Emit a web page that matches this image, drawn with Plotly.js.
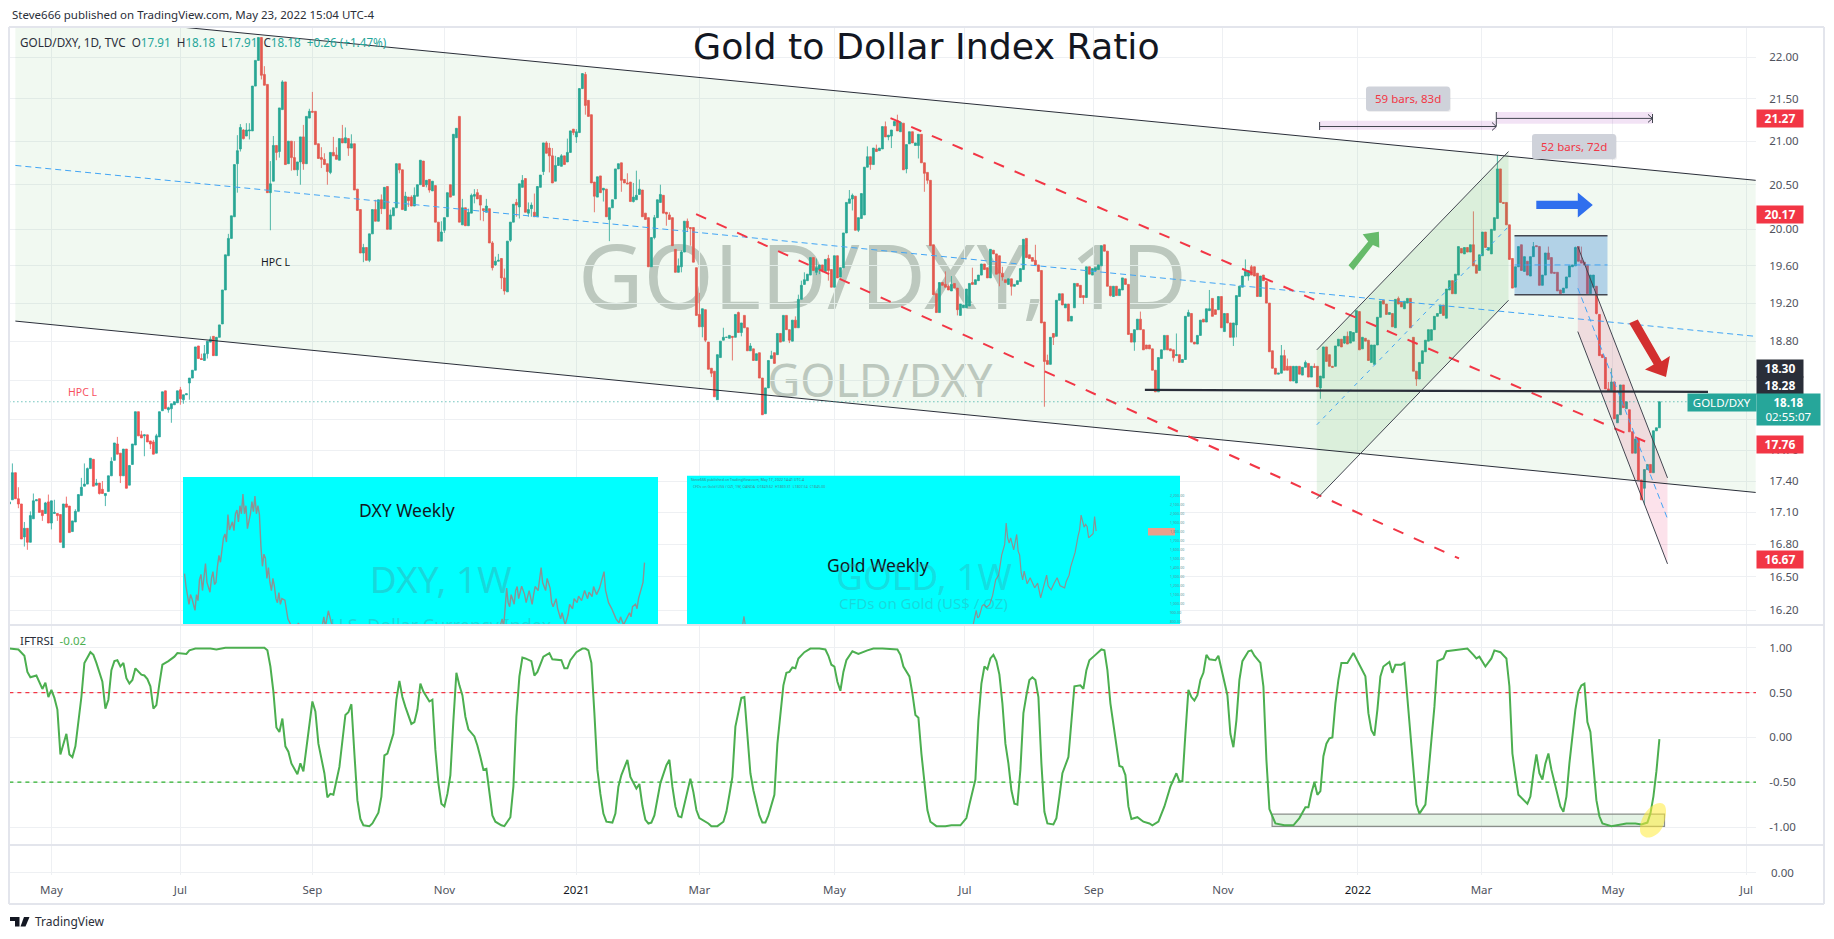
<!DOCTYPE html>
<html>
<head>
<meta charset="utf-8">
<title>Gold to Dollar Index Ratio</title>
<script src="https://cdn.plot.ly/plotly-3.0.1.min.js"></script>
<style>html,body{margin:0;padding:0;background:#fff}#chart{width:1834px;height:939px}</style>
</head>
<body>
<div id="chart"></div>
<script>
/* GOLD/DXY daily candles, one row = 10 bars */
var barOpen = [
17.18,17.22,17.48,17.23,17.18,16.87,16.95,16.82,17.04,17.21,
17.23,17.12,17.09,17.20,17.00,17.09,17.09,17.08,16.77,17.18,
17.16,16.92,17.01,17.11,17.26,17.35,17.37,17.52,17.61,17.36,
17.38,17.32,17.26,17.30,17.45,17.60,17.76,17.67,17.45,17.71,
17.36,17.56,17.75,18.08,17.85,17.84,17.85,17.79,17.78,17.67,
17.83,18.09,18.29,18.10,18.11,18.15,18.17,18.30,18.20,18.25,
18.37,18.42,18.50,18.75,18.62,18.60,18.67,18.79,18.85,18.65,
18.84,18.98,19.34,19.71,19.90,20.14,20.74,20.91,21.13,21.06,
21.12,21.12,21.65,21.96,22.24,21.79,21.67,20.41,20.54,20.95,
20.88,21.37,21.70,20.74,21.00,20.81,20.67,20.76,21.05,20.74,
21.27,21.35,21.35,20.97,20.81,20.79,20.74,20.64,20.87,20.84,
20.78,21.03,20.98,21.03,20.92,20.97,20.45,20.22,19.74,19.80,
19.66,19.95,20.22,20.09,20.33,20.23,20.48,20.00,20.15,20.24,
20.74,20.67,20.21,20.36,20.36,20.26,20.37,20.50,20.77,20.50,
20.56,20.43,20.49,20.08,19.87,19.99,20.14,20.50,20.38,21.04,
21.29,20.05,20.24,20.04,20.18,20.37,20.41,20.38,20.23,20.19,
20.23,19.85,19.61,19.65,19.68,19.47,19.32,19.88,20.08,20.30,
20.25,20.47,20.57,20.18,20.23,20.19,20.14,20.47,20.65,20.98,
20.92,20.83,20.54,20.72,20.71,20.83,20.76,20.87,21.14,21.05,
21.10,21.62,21.79,21.48,21.31,20.53,20.36,20.60,20.44,20.45,
20.11,20.24,20.34,20.68,20.75,20.56,20.52,20.53,20.31,20.33,
20.39,20.44,20.18,20.13,19.59,19.91,20.13,20.30,20.38,20.19,
20.16,20.13,19.78,19.53,19.59,19.75,20.09,20.02,20.02,19.58,
19.08,18.95,19.13,18.79,18.52,18.49,18.20,18.63,18.81,18.84,
18.83,18.85,18.84,19.10,18.89,19.07,18.94,18.70,18.72,18.60,
18.68,18.42,18.06,18.32,18.62,18.68,18.66,18.88,18.80,19.07,
18.92,18.80,19.02,18.94,19.24,19.40,19.44,19.50,19.69,19.53,
19.56,19.61,19.54,19.68,19.56,19.37,19.71,19.48,19.58,19.96,
20.29,20.34,20.37,19.99,20.12,20.16,20.70,20.82,20.73,20.91,
20.89,20.91,21.17,21.05,21.06,21.18,21.24,21.11,21.21,20.68,
20.97,21.11,20.95,20.95,21.08,20.75,20.64,20.55,19.83,19.30,
19.10,19.42,19.40,19.38,19.33,19.41,19.36,19.07,19.15,19.15,
19.17,19.42,19.40,19.44,19.50,19.62,19.58,19.47,19.77,19.73,
19.71,19.52,19.45,19.40,19.46,19.38,19.40,19.43,19.56,19.90,
19.72,19.69,19.66,19.61,19.55,19.00,18.60,18.56,18.88,18.85,
19.23,19.30,19.15,19.19,19.01,19.15,19.41,19.39,19.28,19.26,
19.59,19.50,19.55,19.56,19.60,19.83,19.76,19.38,19.27,19.38,
19.28,19.34,19.46,19.40,18.88,18.79,18.92,19.03,18.92,18.76,
18.76,18.72,18.50,18.28,18.62,18.71,18.86,18.72,18.71,18.65,
18.66,18.58,18.61,19.06,19.09,18.79,18.77,18.86,19.03,19.00,
19.12,19.25,19.13,19.13,19.27,18.90,19.09,18.99,18.84,18.97,
19.27,19.37,19.49,19.49,19.59,19.59,19.52,19.27,19.50,19.43,
19.20,18.70,18.52,18.46,18.47,18.65,18.54,18.54,18.39,18.37,
18.54,18.45,18.53,18.57,18.43,18.54,18.54,18.32,18.42,18.74,
18.66,18.54,18.54,18.75,18.82,18.78,18.85,18.78,18.80,18.89,
19.11,18.72,18.83,18.81,18.58,18.56,18.76,19.05,19.23,19.19,
19.08,19.09,18.94,19.25,19.21,19.14,19.20,19.25,18.84,18.49,
18.41,18.57,18.69,18.80,18.81,18.92,19.06,19.09,19.18,19.04,
19.34,19.44,19.30,19.50,19.79,19.73,19.80,19.75,19.83,19.61,
19.55,19.71,19.97,19.77,19.73,19.99,20.12,20.68,20.30,20.30,
20.05,19.68,19.37,19.59,19.83,19.54,19.65,19.49,19.70,19.82,
19.81,19.39,19.50,19.74,19.69,19.53,19.53,19.34,19.31,19.36,
19.48,19.59,19.60,19.81,19.66,19.64,19.61,19.30,19.37,19.38,
19.08,18.66,18.63,18.31,18.29,18.38,17.97,18.05,18.35,18.11,
18.10,17.88,17.67,17.81,17.41,17.33,17.51,17.56,17.48,17.89,
17.92];
var barClose = [
17.20,17.48,17.23,17.18,16.85,16.95,16.82,17.07,17.21,17.22,
17.10,17.07,17.19,17.00,17.21,17.10,17.07,16.82,17.18,17.15,
16.91,17.02,17.11,17.27,17.34,17.37,17.52,17.62,17.35,17.38,
17.28,17.28,17.28,17.45,17.59,17.77,17.66,17.45,17.71,17.33,
17.55,17.76,18.08,17.84,17.82,17.85,17.78,17.76,17.66,17.84,
18.08,18.28,18.11,18.12,18.16,18.18,18.29,18.21,18.25,18.26,
18.42,18.50,18.74,18.62,18.61,18.67,18.80,18.82,18.65,18.84,
18.97,19.34,19.72,19.90,20.15,20.73,20.89,21.16,21.03,21.13,
21.13,21.65,21.96,22.24,21.78,21.66,20.41,20.51,20.95,20.87,
21.39,21.70,20.73,21.00,20.81,20.67,20.76,21.05,20.74,21.29,
21.35,21.34,20.96,20.80,20.79,20.73,20.65,20.87,20.83,20.79,
21.03,20.98,21.04,20.92,20.97,20.44,20.21,19.74,19.80,19.66,
19.95,20.22,20.09,20.33,20.23,20.47,20.00,20.16,20.24,20.74,
20.67,20.22,20.37,20.32,20.26,20.38,20.50,20.78,20.48,20.55,
20.44,20.54,20.08,19.87,19.97,20.13,20.41,20.36,21.08,21.15,
20.08,20.24,20.04,20.19,20.38,20.39,20.34,20.27,20.21,20.26,
19.85,19.58,19.65,19.66,19.47,19.33,19.87,20.08,20.28,20.27,
20.51,20.55,20.19,20.22,20.27,20.14,20.48,20.61,20.98,20.86,
20.83,20.52,20.72,20.81,20.83,20.73,20.87,21.12,21.10,21.11,
21.62,21.80,21.42,21.29,20.52,20.37,20.59,20.41,20.46,20.14,
20.24,20.33,20.68,20.74,20.55,20.52,20.51,20.31,20.36,20.38,
20.45,20.14,20.11,19.59,19.91,20.13,20.33,20.39,20.18,20.17,
20.11,19.82,19.53,19.60,19.75,20.09,20.02,20.01,19.64,19.07,
18.95,19.14,18.81,18.51,18.47,18.23,18.66,18.80,18.84,18.84,
18.86,18.84,19.08,18.89,18.99,18.94,18.70,18.75,18.60,18.67,
18.42,18.05,18.32,18.60,18.65,18.57,18.88,18.79,19.07,18.92,
18.81,19.02,18.94,19.24,19.39,19.45,19.51,19.69,19.55,19.58,
19.61,19.55,19.67,19.55,19.37,19.71,19.47,19.58,19.96,20.30,
20.34,20.38,19.99,20.13,20.40,20.70,20.82,20.73,20.92,20.88,
20.92,21.17,21.05,21.07,21.13,21.23,21.12,21.22,20.67,20.96,
21.11,20.98,20.98,21.08,20.75,20.63,20.55,19.82,19.29,19.10,
19.42,19.39,19.37,19.34,19.40,19.36,19.13,19.19,19.18,19.35,
19.41,19.40,19.45,19.50,19.62,19.56,19.47,19.78,19.73,19.51,
19.52,19.48,19.42,19.46,19.38,19.40,19.44,19.57,19.89,19.69,
19.68,19.65,19.61,19.54,18.99,18.59,18.56,18.84,18.84,19.23,
19.30,19.18,19.19,19.01,19.06,19.41,19.38,19.26,19.26,19.59,
19.51,19.57,19.58,19.61,19.82,19.76,19.38,19.28,19.38,19.28,
19.35,19.47,19.40,18.87,18.79,18.92,19.03,18.92,18.71,18.72,
18.72,18.50,18.28,18.63,18.71,18.86,18.71,18.70,18.63,18.66,
18.58,18.61,19.06,19.10,18.79,18.77,18.86,19.02,19.00,19.14,
19.14,19.06,19.08,19.27,18.94,19.09,18.99,18.84,18.99,19.28,
19.38,19.49,19.54,19.55,19.50,19.49,19.27,19.49,19.44,19.20,
18.69,18.52,18.46,18.47,18.65,18.50,18.50,18.39,18.54,18.54,
18.46,18.53,18.58,18.43,18.54,18.53,18.33,18.44,18.74,18.59,
18.54,18.53,18.75,18.82,18.74,18.85,18.77,18.90,18.89,19.12,
18.71,18.84,18.80,18.60,18.76,18.76,19.05,19.22,19.19,19.08,
19.10,18.95,19.24,19.19,19.16,19.22,19.25,18.94,18.49,18.41,
18.58,18.70,18.81,18.92,18.92,19.06,19.09,19.18,19.07,19.35,
19.44,19.30,19.51,19.81,19.74,19.80,19.75,19.83,19.60,19.52,
19.72,19.97,19.80,19.80,20.00,20.13,20.68,20.30,20.29,20.05,
19.67,19.36,19.59,19.81,19.55,19.70,19.50,19.70,19.81,19.81,
19.39,19.50,19.74,19.67,19.52,19.52,19.33,19.30,19.36,19.48,
19.60,19.61,19.80,19.65,19.63,19.61,19.30,19.50,19.50,19.09,
18.65,18.63,18.31,18.29,18.38,18.01,18.05,18.35,18.12,18.18,
17.88,17.67,17.81,17.41,17.22,17.51,17.56,17.48,17.89,17.92,
18.18];
var barHigh = [
17.21,17.57,17.48,17.34,17.18,17.01,16.95,17.11,17.28,17.22,
17.23,17.12,17.20,17.27,17.21,17.22,17.09,17.08,17.18,17.25,
17.16,17.02,17.13,17.27,17.43,17.57,17.53,17.62,17.61,17.42,
17.38,17.40,17.28,17.45,17.63,17.77,17.83,17.67,17.71,17.71,
17.55,17.76,18.08,18.08,17.89,17.85,17.85,17.79,17.80,17.86,
18.08,18.28,18.29,18.13,18.16,18.18,18.29,18.33,18.25,18.26,
18.42,18.50,18.74,18.75,18.67,18.76,18.80,18.85,18.85,18.84,
18.97,19.34,19.72,19.95,20.15,20.73,21.07,21.20,21.14,21.21,
21.21,21.65,21.96,22.24,22.24,21.89,21.67,20.77,21.06,20.95,
21.39,21.72,21.70,21.00,21.00,21.00,20.76,21.05,21.19,21.29,
21.38,21.58,21.35,20.97,20.93,20.86,20.74,20.87,21.05,20.93,
21.03,21.19,21.16,21.03,21.08,20.97,20.45,20.22,19.84,19.80,
19.95,20.22,20.33,20.33,20.39,20.47,20.48,20.22,20.24,20.74,
20.74,20.67,20.42,20.36,20.38,20.47,20.50,20.78,20.77,20.55,
20.56,20.54,20.49,20.08,20.09,20.13,20.41,20.50,21.08,21.15,
21.29,20.34,20.24,20.23,20.40,20.45,20.45,20.38,20.23,20.34,
20.23,19.87,19.70,19.73,19.68,19.57,19.87,20.08,20.28,20.34,
20.51,20.61,20.57,20.30,20.30,20.40,20.14,20.48,20.61,21.00,
20.98,20.92,20.83,20.72,20.85,20.83,21.03,20.92,21.12,21.14,
21.10,21.62,21.82,21.48,21.31,20.53,20.59,20.60,20.46,20.45,
20.24,20.33,20.68,20.74,20.75,20.56,20.63,20.53,20.52,20.66,
20.56,20.44,20.18,20.13,19.91,20.16,20.33,20.50,20.38,20.19,
20.19,20.13,19.78,19.68,19.77,20.09,20.12,20.02,20.02,19.58,
19.31,19.14,19.13,18.79,18.52,18.49,18.66,18.80,18.94,18.84,
18.86,18.85,19.08,19.11,18.99,19.07,18.94,18.78,18.72,18.67,
18.68,18.42,18.32,18.60,18.70,18.68,18.88,18.88,19.07,19.07,
18.92,19.02,19.06,19.29,19.44,19.53,19.51,19.69,19.69,19.68,
19.61,19.61,19.67,19.72,19.56,19.71,19.71,19.58,19.96,20.30,
20.44,20.40,20.37,20.13,20.40,20.70,20.94,20.82,20.92,20.96,
20.92,21.17,21.23,21.07,21.13,21.23,21.31,21.22,21.21,20.96,
21.11,21.11,20.98,21.08,21.08,20.75,20.64,20.55,19.83,19.30,
19.42,19.42,19.54,19.40,19.49,19.41,19.36,19.19,19.18,19.35,
19.41,19.58,19.45,19.50,19.62,19.62,19.58,19.78,19.77,19.73,
19.71,19.59,19.45,19.46,19.46,19.40,19.44,19.57,19.89,19.90,
19.72,19.69,19.83,19.61,19.55,19.00,18.66,18.84,18.88,19.23,
19.30,19.30,19.19,19.19,19.06,19.41,19.41,19.39,19.28,19.59,
19.59,19.57,19.58,19.61,19.82,19.83,19.76,19.38,19.38,19.38,
19.35,19.47,19.46,19.40,18.88,18.92,19.03,19.11,18.92,18.76,
18.76,18.72,18.50,18.63,18.71,18.86,18.86,18.72,18.71,18.88,
18.66,18.61,19.06,19.13,19.09,18.79,18.86,19.02,19.03,19.14,
19.34,19.25,19.13,19.27,19.27,19.09,19.09,18.99,18.99,19.28,
19.38,19.49,19.67,19.55,19.61,19.59,19.52,19.49,19.50,19.44,
19.20,18.70,18.52,18.47,18.76,18.71,18.62,18.54,18.54,18.54,
18.54,18.53,18.60,18.57,18.54,18.57,18.54,18.44,18.74,18.74,
18.66,18.54,18.75,18.82,18.82,18.85,18.90,18.90,18.89,19.12,
19.11,18.84,18.83,18.81,18.76,18.76,19.05,19.22,19.23,19.19,
19.10,19.09,19.24,19.27,19.21,19.22,19.25,19.25,18.84,18.49,
18.58,18.70,18.81,18.92,18.92,19.06,19.09,19.18,19.18,19.35,
19.44,19.44,19.51,19.81,19.79,19.80,19.80,19.83,20.20,19.61,
19.72,19.97,19.97,19.80,20.00,20.13,20.84,20.68,20.30,20.30,
20.05,19.68,19.59,19.81,19.83,19.70,19.65,19.70,19.86,19.82,
19.81,19.50,19.74,19.81,19.69,19.53,19.53,19.34,19.36,19.48,
19.60,19.61,19.81,19.66,19.81,19.61,19.50,19.50,19.38,19.08,
18.66,18.63,18.31,18.38,18.52,18.01,18.05,18.35,18.35,18.18,
18.10,17.88,17.81,17.81,17.41,17.51,17.56,17.56,17.89,17.92,
18.18];
var barLow = [
16.75,17.22,17.23,17.14,16.85,16.78,16.75,16.82,17.04,17.21,
17.10,17.02,17.09,17.00,16.94,17.09,17.02,16.82,16.77,17.15,
16.91,16.92,17.01,17.11,17.26,17.35,17.37,17.52,17.35,17.36,
17.27,17.28,17.16,17.30,17.45,17.60,17.66,17.38,17.45,17.33,
17.36,17.56,17.75,17.84,17.82,17.64,17.78,17.71,17.66,17.67,
17.83,18.09,18.11,18.07,17.97,18.15,18.17,18.15,18.16,18.25,
18.20,18.42,18.50,18.62,18.61,18.60,18.62,18.79,18.65,18.65,
18.84,18.98,19.34,19.71,19.90,20.14,20.41,20.88,21.02,21.06,
21.02,21.12,21.65,21.96,21.73,21.66,20.41,19.99,20.54,20.78,
20.81,21.37,20.73,20.74,20.66,20.67,20.60,20.50,20.67,20.74,
21.27,21.34,20.96,20.80,20.69,20.73,20.50,20.62,20.83,20.79,
20.78,20.98,20.98,20.83,20.92,20.44,20.21,19.74,19.64,19.66,
19.64,19.95,20.09,20.09,20.17,20.23,20.00,20.00,20.15,20.24,
20.63,20.22,20.21,20.25,20.26,20.26,20.37,20.50,20.48,20.47,
20.41,20.43,20.08,19.87,19.87,19.96,20.14,20.36,20.38,21.04,
20.08,20.05,20.04,20.04,20.18,20.29,20.34,20.10,20.09,20.19,
19.85,19.55,19.60,19.65,19.35,19.29,19.32,19.86,20.08,20.14,
20.12,20.47,20.19,20.14,20.14,20.14,20.14,20.47,20.65,20.86,
20.64,20.52,20.54,20.72,20.71,20.73,20.76,20.87,21.07,20.98,
21.10,21.62,21.31,21.29,20.52,20.19,20.36,20.41,20.31,20.14,
19.87,20.24,20.34,20.68,20.42,20.52,20.51,20.31,20.30,20.33,
20.39,20.14,20.11,19.59,19.59,19.89,20.13,20.30,20.18,20.04,
20.11,19.82,19.53,19.53,19.53,19.75,19.97,19.82,19.64,19.07,
18.95,18.84,18.79,18.51,18.43,18.23,18.20,18.63,18.81,18.84,
18.83,18.60,18.84,18.89,18.85,18.94,18.70,18.70,18.60,18.60,
18.42,18.05,18.06,18.32,18.62,18.57,18.66,18.79,18.80,18.92,
18.78,18.80,18.94,18.94,19.24,19.40,19.44,19.50,19.55,19.50,
19.51,19.53,19.54,19.44,19.37,19.37,19.47,19.48,19.58,19.96,
20.29,20.21,19.99,19.97,20.12,20.16,20.70,20.67,20.73,20.88,
20.89,20.91,21.05,21.01,20.92,21.18,21.12,21.11,20.67,20.63,
20.97,20.98,20.95,20.80,20.75,20.42,20.51,19.82,19.29,19.10,
19.10,19.39,19.37,19.34,19.33,19.36,19.07,19.07,19.15,19.15,
19.17,19.40,19.40,19.44,19.50,19.56,19.47,19.47,19.73,19.51,
19.38,19.44,19.42,19.40,19.28,19.38,19.40,19.43,19.56,19.69,
19.68,19.65,19.61,19.54,18.99,18.13,18.56,18.56,18.76,18.85,
19.23,19.18,19.15,19.01,19.01,19.15,19.38,19.26,19.19,19.26,
19.51,19.50,19.55,19.56,19.60,19.76,19.38,19.27,19.27,19.28,
19.28,19.34,19.40,18.87,18.79,18.70,18.92,18.92,18.71,18.72,
18.72,18.50,18.28,18.28,18.62,18.71,18.71,18.70,18.59,18.65,
18.58,18.58,18.61,19.06,18.79,18.77,18.77,18.86,19.00,19.00,
19.12,19.06,19.08,19.13,18.94,18.90,18.99,18.84,18.75,18.84,
19.27,19.37,19.49,19.44,19.50,19.49,19.27,19.27,19.44,19.20,
18.69,18.52,18.46,18.46,18.47,18.50,18.50,18.39,18.39,18.37,
18.46,18.45,18.53,18.43,18.43,18.53,18.33,18.21,18.42,18.59,
18.54,18.53,18.54,18.75,18.74,18.77,18.77,18.78,18.80,18.89,
18.71,18.72,18.80,18.60,18.58,18.56,18.76,19.05,19.19,19.08,
19.08,18.95,18.94,19.19,19.16,19.14,19.20,18.94,18.49,18.34,
18.41,18.57,18.69,18.80,18.81,18.92,19.06,19.09,19.07,19.04,
19.34,19.30,19.30,19.50,19.74,19.73,19.75,19.75,19.60,19.52,
19.55,19.71,19.80,19.77,19.73,19.99,20.12,20.30,20.29,20.05,
19.67,19.36,19.37,19.59,19.55,19.54,19.50,19.49,19.70,19.81,
19.39,19.39,19.50,19.67,19.52,19.52,19.33,19.30,19.31,19.36,
19.48,19.59,19.60,19.65,19.63,19.61,19.30,19.30,19.37,19.09,
18.65,18.63,18.31,18.29,18.29,18.01,17.97,18.05,18.12,18.11,
17.88,17.67,17.67,17.41,17.22,17.17,17.51,17.48,17.48,17.89,
17.92];
var barIndex = barOpen.map(function (v, i) { return i; });

/* IFTRSI turning points: bar number and value */
var rsiBar = [0,3,5,6,7,9,11,12,13,14,15,16,17,19,20,21,22,24,25,27,28,29,31,32,33,34,35,36,37,38,39,40,41,42,44,45,46,47,48,49,50,51,53,55,56,59,60,62,67,69,72,85,86,87,88,89,90,91,92,93,94,96,97,98,99,101,102,103,105,106,107,108,110,112,113,114,115,116,117,118,120,121,123,124,125,126,128,129,130,131,132,134,135,136,137,138,140,141,142,143,144,145,146,147,148,149,150,151,152,153,155,156,157,158,159,160,161,162,164,165,166,167,168,169,170,171,172,174,175,176,178,180,181,183,184,185,186,187,189,191,192,193,194,195,196,197,198,199,201,202,203,204,206,207,209,210,211,212,213,214,215,217,219,220,221,222,223,224,225,226,227,228,229,230,231,233,234,236,238,239,240,241,242,243,244,245,246,247,248,249,250,251,252,253,255,256,258,259,260,261,262,263,265,267,270,272,273,274,275,276,277,278,279,281,283,286,288,291,296,297,298,300,301,302,303,304,305,306,307,309,312,314,317,319,320,322,323,324,325,326,327,328,329,330,331,332,333,334,335,336,337,338,339,340,341,342,343,344,345,346,348,349,350,351,353,354,355,357,358,359,360,362,364,365,366,367,369,370,371,372,373,374,376,378,380,381,383,385,387,389,390,391,392,393,394,395,396,397,398,399,400,402,403,404,406,407,408,409,410,411,413,414,415,417,418,419,420,422,425,428,430,432,433,434,435,436,437,438,439,440,441,442,443,444,446,448,450,452,453,454,455,456,457,458,460,461,462,464,465,466,468,469,470,472,473,475,476,478,479,481,486,488,489,490,492,494,495,497,499,500,501,502,503,506,507,508,509,510,511,512,513,514,516,517,518,519,520,522,523,524,525,526,527,528,529,530,531,534,536,539,542,544,546,547,548,549,550];
var rsiVal = [.99,.98,.91,.73,.67,.69,.54,.61,.45,.53,.44,.31,-.19,.04,-.19,-.22,-.10,.45,.83,.95,.92,.83,.62,.32,.42,.75,.85,.86,.79,.83,.66,.60,.64,.77,.70,.69,.65,.57,.32,.36,.60,.81,.85,.90,.94,.93,.97,.99,.99,.98,1.0,1.0,.97,.79,.51,.11,.06,.21,-.10,-.16,-.29,-.41,-.29,-.38,-.12,.40,.29,-.07,-.40,-.67,-.63,-.64,-.33,.25,.28,.37,-.18,-.70,-.91,-.98,-.99,-.96,-.84,-.66,-.20,-.18,.04,.42,.63,.45,.34,.15,.17,.31,.60,.51,.40,.42,-.14,-.51,-.74,-.77,-.63,-.42,.19,.72,.58,.47,.23,.09,.01,-.09,-.22,-.36,-.35,-.64,-.87,-.94,-.98,-.99,-.94,-.89,-.55,.23,.68,.89,.88,.85,.69,.73,.90,.94,.87,.86,.86,.77,.77,.86,.95,.99,.99,.97,.83,.27,-.36,-.63,-.85,-.94,-.95,-.85,-.55,-.42,-.25,-.44,-.57,-.52,-.76,-.92,-.96,-.95,-.87,-.51,-.31,-.25,-.55,-.77,-.88,-.89,-.74,-.59,-.46,-.61,-.81,-.90,-.92,-.96,-.99,-.99,-.94,-.83,-.64,-.44,.12,.27,.44,.45,.04,-.40,-.59,-.74,-.87,-.95,-.95,-.87,-.64,-.07,.58,.72,.73,.78,.77,.88,.95,.99,.99,.98,.91,.81,.79,.62,.52,.73,.86,.96,.93,.97,.99,.99,.98,.92,.79,.68,.49,.25,.22,-.18,-.51,-.81,-.94,-.99,-.99,-.98,-.98,-.90,-.75,-.47,.19,.60,.79,.76,.88,.92,.85,.70,.38,-.07,-.29,-.59,-.74,-.75,-.36,.27,.47,.64,.67,.64,.45,-.29,-.83,-.96,-.97,-.90,-.66,-.40,-.22,.23,.57,.58,.54,.75,.86,.92,.98,.97,.75,.38,-.10,-.32,-.33,-.42,-.77,-.91,-.89,-.94,-.96,-.98,-.94,-.77,-.55,-.40,-.49,-.49,.04,.53,.45,.41,.47,.64,.72,.92,.87,.86,.91,.75,.47,.04,-.11,.19,.64,.85,.96,.97,.91,.83,.57,-.25,-.80,-.96,-.98,-.98,-.90,-.78,-.78,-.62,-.50,-.64,-.60,-.21,-.07,-.01,0,.38,.64,.83,.83,.94,.81,.68,.27,.08,.02,.31,.68,.79,.84,.72,.81,.81,.83,.42,-.33,-.75,-.85,-.75,-.40,.34,.85,.88,.96,.97,.99,.92,.88,.90,.79,.88,.97,.95,.88,.57,-.18,-.42,-.64,-.74,-.66,-.40,-.19,-.40,-.47,-.29,-.18,-.36,-.64,-.77,-.83,-.66,-.29,.31,.51,.58,.60,.17,.06,-.36,-.70,-.88,-.96,-.99,-.98,-.96,-.96,-.97,-.95,-.85,-.66,-.38,-.02];

/* weekly series pasted on the two cyan insets */
var dxyWeek = [1,2,4,5,6,8,9,10,11,12,13,14,15,16,18,19,20,21,22,23,24,25,26,27,28,29,30,31,33,34,35,36,37,38,39,40,41,42,43,44,45,46,47,48,49,50,51,52,53,54,55,56,57,58,59,60,61,62,63,64,65,66,68,70,72,74,77,80,84,86,90,92,94,95,97,99,102,115,142,168,194,210,213,214,216,217,218,219,221,222,223,224,226,228,229,231,233,234,235,237,239,240,242,243,245,246,247,249,250,252,253,255,257,258,260,261,263,264,266,268,270,271,273,274,276,278,279,281,282,284,286,288,289,291,292,294,296,298,299,300,302,303,304,306,307,308];
var dxyClose = [101.2,98,93.6,96,95,92.1,96,94.5,99.7,101,97,100,103.7,99,96.6,100,101.7,98.5,99,103,105.7,104,107,110,111,109,115.8,112,114,111.8,116,116.9,114,118,116,120.9,116,118,112.3,114,116,119,116.5,120.4,116,118,115.8,108,103,106,105,100,102.7,99,97,100,98.1,95,94,96.5,93.6,95,94.6,90,88.5,86,89,86,87,85,88.5,86.5,90.5,88,92,89,86,80,78,80,84,86,90,88,97.6,94,93,96,93.6,97,98,95,98.1,96,94,97,93.6,96,98,97,102.7,99,97,100,97.6,94,93,95,92.6,90,91.5,88.5,91,93.6,92.5,95,94,95.6,94.5,97,95,96.6,95.5,98,96,97.6,99,101.7,97.1,94,92.6,91,90,89,90.5,88.5,90,91.5,90.5,93,93.6,92.5,95,97.6,99,103.9];
var goldWeek = [37,38,39,191,193,194,195,197,198,200,202,204,206,208,210,212,213,214,215,216,218,220,221,222,223,224,225,227,229,232,234,236,238,240,241,243,245,247,249,252,253,255,256,258,259,261,262,263,265,266,267,268,270,271,272,273];
var goldClose = [1240,1311,1240,1250,1355,1300,1310,1390,1400,1380,1400,1470,1585,1620,1770,1850,2010,1900,1860,1900,1810,1925,1800,1770,1640,1585,1650,1555,1600,1525,1560,1450,1530,1620,1540,1510,1560,1600,1540,1525,1570,1620,1680,1745,1790,1915,1960,2070,1980,2000,1985,1900,1925,1930,2060,1950];
var goldTickText = ['2,200.00','2,100.00','2,000.00','1,900.00','1,800.00','1,700.00','1,600.00','1,500.00','1,400.00','1,300.00','1,200.00','1,100.00','1,000.00','900.00','800.00'];

/* axis labels */
var monthBar = [14,57,101,145,189,230,275,318.5,361.5,404.5,449.5,490.7,534.5,579];
var monthText = ['May','Jul','Sep','Nov','<span style="color:#131722">2021</span>','Mar','May','Jul','Sep','Nov','<span style="color:#131722">2022</span>','Mar','May','Jul'];
var priceTicks = [22,21.5,21,20.5,20,19.6,19.2,18.8,18.4,18,17.7,17.4,17.1,16.8,16.5,16.2];
var priceTickText = ['22.00','21.50','21.00','20.50','20.00','19.60','19.20','18.80','','','17.70','17.40','17.10','16.80','16.50','16.20'];
var rsiTicks = [1,0.5,0,-0.5,-1];

/* trend drawings: [bar, price] ends */
var chanBar = [2,582.1];
var chanTop = [22.57,20.55];
var chanMid = [20.72,18.85];
var chanBot = [19.01,17.29];
var forkABar = [293.7,547.2];
var forkAVal = [21.27,17.76];
var forkBBar = [228.9,483.2];
var forkBVal = [20.17,16.67];
var supportBar = [378.5,566.2];
var supportVal = [18.30,18.28];
var upBar = [435.8,499.7];
var upTop = [18.71,20.88];
var upMid = [17.95,20.03];
var upBot = [17.23,19.23];
var boxBar = [501.7,532.7];
var boxTop = 19.93, boxMid = 19.61, boxBot = 19.29;
var downBar = [522.8,552.7];
var downTop = [19.81,17.43];
var downMid = [19.36,17.04];
var downBot = [18.90,16.62];
var rsiBoxBar = [420.9,551.7];
var rsiBoxVal = [-0.855,-0.993];
var lastPrice = 18.18;

var W = 1834, H = 939;
var TEAL = '#26a69a', RED = '#ef5350', LABEL_RED = '#f23645';
var FONT = 'Noto Sans, sans-serif';
var TICK = '#50535e';

function fx(x) { return x / W; }
function fy(y) { return 1 - y / H; }

function line(xs, ys, color, width, dash, axis) {
  return { type: 'scatter', mode: 'lines', x: xs, y: ys, xaxis: 'x', yaxis: axis || 'y',
    line: { color: color, width: width, dash: dash || 'solid' }, hoverinfo: 'skip', showlegend: false };
}
function band(xs, lo, hi, color, axis) {
  return { type: 'scatter', mode: 'none', fill: 'toself', fillcolor: color, xaxis: 'x', yaxis: axis || 'y',
    x: [xs[0], xs[1], xs[1], xs[0], xs[0]], y: [hi[0], hi[1], lo[1], lo[0], hi[0]],
    hoverinfo: 'skip', showlegend: false };
}
function pair(v) { return [v, v]; }

var BLUE_DASH = '6px,4px', RED_DASH = '11px,11.5px', LINE = '#434651', SOFT_BLUE = '#42a5f5';

var traces = [
  { type: 'candlestick', x: barIndex, open: barOpen, high: barHigh, low: barLow, close: barClose,
    xaxis: 'x', yaxis: 'y', whiskerwidth: 0, hoverinfo: 'skip', showlegend: false,
    increasing: { line: { color: TEAL, width: 0.8 }, fillcolor: TEAL },
    decreasing: { line: { color: RED, width: 0.8 }, fillcolor: RED } },

  band(chanBar, chanBot, chanTop, 'rgba(76,175,80,0.08)'),
  band(upBar, upBot, upTop, 'rgba(76,175,80,0.13)'),
  band(downBar, downBot, downTop, 'rgba(233,30,99,0.13)'),
  band(boxBar, pair(boxBot), pair(boxTop), 'rgba(33,120,210,0.30)'),

  line(chanBar, chanTop, '#2a2e39', 1),
  line(chanBar, chanBot, '#2a2e39', 1),
  line(chanBar, chanMid, SOFT_BLUE, 1, BLUE_DASH),
  line(forkABar, forkAVal, LABEL_RED, 2, RED_DASH),
  line(forkBBar, forkBVal, LABEL_RED, 2, RED_DASH),
  line(upBar, upTop, LINE, 1),
  line(upBar, upBot, LINE, 1),
  line(upBar, upMid, SOFT_BLUE, 1, '4px,5px'),
  line(boxBar, pair(boxTop), LINE, 1.5),
  line(boxBar, pair(boxBot), LINE, 1.5),
  line(boxBar, pair(boxMid), SOFT_BLUE, 1, BLUE_DASH),
  line(downBar, downTop, LINE, 1),
  line(downBar, downBot, LINE, 1),
  line(downBar, downMid, SOFT_BLUE, 1, BLUE_DASH),
  line(supportBar, supportVal, '#2a2e39', 2.2),
  line([0, 582.2], pair(lastPrice), TEAL, 1, '1px,3px'),

  /* IFTRSI pane */
  line([0, 582.2], [0.5, 0.5], LABEL_RED, 1.2, '4px,4px', 'y2'),
  line([0, 582.2], [-0.5, -0.5], '#2db02d', 1.2, '4px,4px', 'y2'),
  band(rsiBoxBar, pair(rsiBoxVal[1]), pair(rsiBoxVal[0]), 'rgba(76,175,80,0.15)', 'y2'),
  line([rsiBoxBar[0], rsiBoxBar[1], rsiBoxBar[1], rsiBoxBar[0], rsiBoxBar[0]],
       [rsiBoxVal[0], rsiBoxVal[0], rsiBoxVal[1], rsiBoxVal[1], rsiBoxVal[0]], '#8a8f8a', 1.2, 'solid', 'y2'),
  line(rsiBar, rsiVal, '#4caf50', 2, 'solid', 'y2'),

  /* empty strip under the oscillator carries the time axis */
  { type: 'scatter', mode: 'lines', x: [0], y: [0], xaxis: 'x', yaxis: 'y3', hoverinfo: 'skip', showlegend: false },

  /* DXY inset */
  { type: 'scatter', mode: 'none', fill: 'toself', fillcolor: '#00ffff', xaxis: 'x2', yaxis: 'y4',
    x: [0, 317, 317, 0, 0], y: [88.6, 88.6, 125.1, 125.1, 88.6], hoverinfo: 'skip', showlegend: false },
  { type: 'scatter', mode: 'lines', x: dxyWeek, y: dxyClose, xaxis: 'x2', yaxis: 'y4',
    line: { color: '#8c9294', width: 1.4 }, hoverinfo: 'skip', showlegend: false },
  { type: 'scatter', mode: 'text', x: [172, 172], y: [98.6, 87.9], xaxis: 'x2', yaxis: 'y4',
    text: ['DXY, 1W', 'U.S. Dollar Currency Index'], textposition: 'middle center',
    textfont: { family: FONT, size: [37, 18], color: 'rgba(70,140,150,0.35)' }, hoverinfo: 'skip', showlegend: false },

  /* Gold inset */
  { type: 'scatter', mode: 'none', fill: 'toself', fillcolor: '#00ffff', xaxis: 'x3', yaxis: 'y5',
    x: [0, 329, 329, 0, 0], y: [1250, 1250, 2367, 2367, 1250], hoverinfo: 'skip', showlegend: false },
  { type: 'scatter', mode: 'lines', x: goldWeek.slice(0, 3), y: goldClose.slice(0, 3), xaxis: 'x3', yaxis: 'y5',
    line: { color: '#8c9294', width: 1.2 }, hoverinfo: 'skip', showlegend: false },
  { type: 'scatter', mode: 'lines', x: goldWeek.slice(3), y: goldClose.slice(3), xaxis: 'x3', yaxis: 'y5',
    line: { color: '#8c9294', width: 1.2 }, hoverinfo: 'skip', showlegend: false }
];

function note(x, y, text, opt) {
  opt = opt || {};
  var a = { xref: 'paper', yref: 'paper', x: fx(x), y: fy(y), text: text, showarrow: false,
    xanchor: opt.anchor || 'left', yanchor: 'middle', align: opt.align || 'left',
    font: { family: opt.family || FONT, size: opt.size || 12, color: opt.color || '#131722' } };
  if (opt.bg) { a.bgcolor = opt.bg; a.borderpad = 0; }
  if (opt.w) { a.width = opt.w; }
  if (opt.h) { a.height = opt.h; }
  return a;
}
function priceTag(y, text, bg) {
  return note(1756, y, '<b>' + text + '</b>', { bg: bg, color: '#fff', w: 46, h: 17, align: 'center', size: 12 });
}

var annotations = [
  note(10, 14.5, 'Steve666 published on TradingView.com, May 23, 2022 15:04 UTC-4', { size: 11.5, color: '#2a2e39' }),
  note(926, 46, 'Gold to Dollar Index Ratio', { anchor: 'center', size: 36.3, family: 'DejaVu Sans, sans-serif' }),
  note(18, 42, 'GOLD/DXY, 1D, TVC  O<span style="color:#26a69a">17.91</span>  H<span style="color:#26a69a">18.18</span>  L<span style="color:#26a69a">17.91</span>  C<span style="color:#26a69a">18.18</span>  <span style="color:#26a69a">+0.26 (+1.47%)</span>', { size: 11.7, color: '#2a2e39' }),
  note(275, 262, 'HPC L', { anchor: 'center', size: 10.5, color: '#131722' }),
  note(82, 392, 'HPC L', { anchor: 'center', size: 10.5, color: '#f7525f' }),
  note(18, 640.5, 'IFTRSI  <span style="color:#4caf50">-0.02</span>', { size: 11.5, color: '#2a2e39' }),
  note(406.5, 510, 'DXY Weekly', { anchor: 'center', size: 17.5 }),
  note(878, 565, 'Gold Weekly', { anchor: 'center', size: 17.5 }),
  note(924, 575.5, 'GOLD, 1W', { anchor: 'center', size: 37, color: 'rgba(70,140,150,0.30)' }),
  note(924, 603, 'CFDs on Gold (US$ / OZ)', { anchor: 'center', size: 15, color: 'rgba(70,140,150,0.35)' }),
  note(689, 479.6, 'Steve666 published on TradingView.com, May 17, 2022 14:41 UTC-4', { size: 3.6, color: '#4a7a80' }),
  note(691, 486.5, 'CFDs on Gold (US$ / OZ), 1W, OANDA  O1849.62  H1869.31  L1807.54  C1845.00', { size: 3.6, color: '#4a8f95' }),

  note(1408, 98.8, '59 bars, 83d', { anchor: 'center', size: 11.5, color: LABEL_RED }),
  note(1574, 146.5, '52 bars, 72d', { anchor: 'center', size: 11.5, color: LABEL_RED }),

  priceTag(118.4, '21.27', LABEL_RED),
  priceTag(214.3, '20.17', LABEL_RED),
  priceTag(444.5, '17.76', LABEL_RED),
  priceTag(559, '16.67', LABEL_RED),
  note(1756, 368.6, '<b>18.30</b>', { bg: '#2a2e39', color: '#fff', w: 46, h: 17, align: 'center' }),
  note(1756, 385.3, '<b>18.28</b>', { bg: '#2a2e39', color: '#fff', w: 46, h: 17, align: 'center' }),
  note(1687, 402.5, 'GOLD/DXY', { bg: TEAL, color: '#fff', w: 67.5, h: 17, align: 'center', size: 11.5 }),
  note(1756, 409.5, '<b>18.18</b><br>02:55:07', { bg: TEAL, color: '#fff', w: 63, h: 31, align: 'center', size: 11.5 }),

  note(33, 921.5, 'TradingView', { size: 12, color: '#2a2e39' }),
  note(1769, 872, '0.00', { size: 11.5, color: TICK })
];
goldTickText.forEach(function (t, i) {
  annotations.push(note(1168, (1213 + i * 22.2) / 2.45, t, { size: 3.6, color: '#5a9aa0' }));
});

function pt(p) { return fx(p[0]) + ',' + fy(p[1]); }
function pathPx(points) {
  return points.map(function (p, i) { return (i ? 'L' : 'M') + pt(p); }).join(' ') + ' Z';
}
function frameLine(x0, y0, x1, y1) {
  return { type: 'line', xref: 'paper', yref: 'paper', x0: fx(x0), y0: fy(y0), x1: fx(x1), y1: fy(y1),
    line: { color: '#e3e5ec', width: 2 }, layer: 'above' };
}
function block(points, color) {
  return { type: 'path', xref: 'paper', yref: 'paper', path: pathPx(points), fillcolor: color,
    line: { width: 0 }, layer: 'above' };
}
function tagBox(x0, y0, x1, y1, color) {
  return { type: 'rect', xref: 'paper', yref: 'paper', x0: fx(x0), y0: fy(y0), x1: fx(x1), y1: fy(y1),
    fillcolor: color, line: { width: 0 }, layer: 'above' };
}
function roundBox(x0, y0, x1, y1, r, color) {
  return { type: 'path', xref: 'paper', yref: 'paper', fillcolor: color, line: { width: 0 }, layer: 'above',
    path: 'M' + pt([x0 + r, y0]) + ' L' + pt([x1 - r, y0]) + ' Q' + pt([x1, y0]) + ' ' + pt([x1, y0 + r]) +
      ' L' + pt([x1, y1 - r]) + ' Q' + pt([x1, y1]) + ' ' + pt([x1 - r, y1]) +
      ' L' + pt([x0 + r, y1]) + ' Q' + pt([x0, y1]) + ' ' + pt([x0, y1 - r]) +
      ' L' + pt([x0, y0 + r]) + ' Q' + pt([x0, y0]) + ' ' + pt([x0 + r, y0]) + ' Z' };
}
function wire(points, width) {
  return { type: 'path', xref: 'paper', yref: 'paper',
    path: points.map(function (p, i) { return (i ? 'L' : 'M') + pt(p); }).join(' '),
    line: { color: '#434651', width: width || 1 }, layer: 'above' };
}
function watermark(x0, y0, x1, y1, text, size) {
  return { type: 'rect', xref: 'paper', yref: 'paper', x0: fx(x0), y0: fy(y0), x1: fx(x1), y1: fy(y1),
    line: { width: 0 }, fillcolor: 'rgba(0,0,0,0)', layer: 'below',
    label: { text: text, textposition: 'middle center', font: { family: FONT, size: size, color: '#c6cac8' } } };
}

var shapes = [
  watermark(560, 230, 1205, 330, 'GOLD/DXY, 1D', 90),
  watermark(740, 355, 1020, 410, 'GOLD/DXY', 45),

  /* date range bands */
  tagBox(1319.6, 120.8, 1496.3, 129.8, 'rgba(156,39,176,0.13)'),
  tagBox(1496.3, 112, 1652.5, 123.7, 'rgba(156,39,176,0.13)'),
  wire([[1319.6, 126.5], [1496.3, 126.5]]),
  wire([[1319.6, 122], [1319.6, 130]]),
  wire([[1492, 122.5], [1496.3, 126.5], [1492, 130.5]]),
  wire([[1496.3, 118.4], [1652.5, 118.4]]),
  wire([[1496.3, 112], [1496.3, 126]]),
  wire([[1648, 114.4], [1652.5, 118.4], [1648, 122.4]]),
  wire([[1652.5, 114], [1652.5, 123]]),
  roundBox(1367, 88, 1451, 112, 3, 'rgba(120,123,134,0.12)'),
  roundBox(1366, 86.5, 1450, 111, 3, '#cfd2da'),
  roundBox(1533, 135.5, 1617, 160, 3, 'rgba(120,123,134,0.12)'),
  roundBox(1532, 134, 1616, 159, 3, '#cfd2da'),

  /* arrows */
  block([[1536.3, 200.8], [1577.8, 200.8], [1577.8, 192.6], [1592.8, 205], [1577.8, 217.6], [1577.8, 209], [1536.3, 209]], '#2f6fee'),
  block([[1348.5, 265.3], [1368.2, 241.6], [1362.7, 234.3], [1378.9, 231.8], [1379.3, 247.8], [1372.9, 244.9], [1353.2, 270.2]], '#66bb6a'),
  block([[1629.2, 323.3], [1637.8, 319.6], [1661.7, 361.2], [1669.9, 355.9], [1666, 377.1], [1645, 369.4], [1653.7, 364.5]], '#d32f2f'),

  /* highlight on the last RSI turn */
  { type: 'path', xref: 'paper', yref: 'paper', fillcolor: 'rgba(255,235,59,0.55)', line: { width: 0 }, layer: 'above',
    path: 'M' + pt([1640, 829]) + ' C' + pt([1640, 815]) + ' ' + pt([1652, 803]) + ' ' + pt([1660, 803]) +
          ' C' + pt([1668, 803]) + ' ' + pt([1667, 815]) + ' ' + pt([1663, 826]) +
          ' C' + pt([1659, 836]) + ' ' + pt([1649, 839]) + ' ' + pt([1645, 837]) +
          ' C' + pt([1641, 835]) + ' ' + pt([1640, 833]) + ' ' + pt([1640, 829]) + ' Z' },

  /* gold inset price tag */
  tagBox(1148, 528, 1175, 535.5, '#e9a08c'),

  /* TradingView mark */
  block([[10, 917], [19.5, 917], [19.5, 926.5], [15, 926.5], [15, 921], [10, 921]], '#131722'),
  block([[24, 917], [29.5, 917], [25.5, 926.5], [20.5, 926.5]], '#131722'),

  /* pane frame */
  frameLine(9, 27, 1824, 27),
  frameLine(9, 625, 1824, 625),
  frameLine(9, 845, 1824, 845),
  frameLine(9, 904, 1824, 904),
  frameLine(9, 27, 9, 904),
  frameLine(1824, 27, 1824, 904)
];

var GRID = '#eef0f3';
var layout = {
  width: W, height: H,
  margin: { l: 0, r: 0, t: 0, b: 0 },
  paper_bgcolor: '#ffffff',
  plot_bgcolor: 'rgba(0,0,0,0)',
  font: { family: FONT, size: 12, color: TICK },
  showlegend: false,
  hovermode: false,
  boxgap: 0.2,
  boxgroupgap: 0.2,
  xaxis: {
    domain: [fx(9), fx(1756)], anchor: 'y3', range: [-0.13, 582.2],
    tickmode: 'array', tickvals: monthBar, ticktext: monthText, showgrid: true, gridcolor: GRID,
    zeroline: false, showline: false, ticks: 'outside', ticklen: 4, tickcolor: 'rgba(0,0,0,0)',
    tickfont: { family: FONT, size: 11.5, color: TICK },
    rangeslider: { visible: false }, fixedrange: true
  },
  yaxis: {
    domain: [fy(625), fy(27)], anchor: 'x', side: 'right', type: 'log', range: [1.20594, 1.34966],
    tickmode: 'array', tickvals: priceTicks, ticktext: priceTickText,
    showgrid: true, gridcolor: GRID, zeroline: false, showline: false, ticks: 'outside', ticklen: 10,
    tickcolor: 'rgba(0,0,0,0)', tickfont: { family: FONT, size: 11.5, color: TICK }, fixedrange: true
  },
  yaxis2: {
    domain: [fy(845), fy(625)], anchor: 'x', side: 'right', range: [-1.2, 1.253],
    tickmode: 'array', tickvals: rsiTicks, ticktext: rsiTicks.map(function (v) { return v.toFixed(2); }),
    showgrid: true, gridcolor: GRID, zeroline: false, showline: false, ticks: 'outside', ticklen: 10,
    tickcolor: 'rgba(0,0,0,0)', tickfont: { family: FONT, size: 11.5, color: TICK }, fixedrange: true
  },
  yaxis3: {
    domain: [fy(875), fy(845)], anchor: 'x', side: 'right', range: [-0.3, 2.7],
    tickmode: 'array', tickvals: [0], ticktext: [''], showgrid: true, gridcolor: GRID, zeroline: false, showline: false,
    ticks: '', fixedrange: true
  },
  xaxis2: { domain: [fx(183), fx(658)], anchor: 'y4', range: [0, 317], visible: false, fixedrange: true },
  yaxis4: { domain: [fy(624.5), fy(477)], anchor: 'x2', range: [88.6, 125.1], visible: false, fixedrange: true },
  xaxis3: { domain: [fx(687), fx(1180)], anchor: 'y5', range: [0, 329], visible: false, fixedrange: true },
  yaxis5: { domain: [fy(624.5), fy(475.5)], anchor: 'x3', range: [1250, 2367], visible: false, fixedrange: true },
  annotations: annotations,
  shapes: shapes
};

Plotly.newPlot('chart', traces, layout, { displayModeBar: false, staticPlot: true });
</script>
</body>
</html>
